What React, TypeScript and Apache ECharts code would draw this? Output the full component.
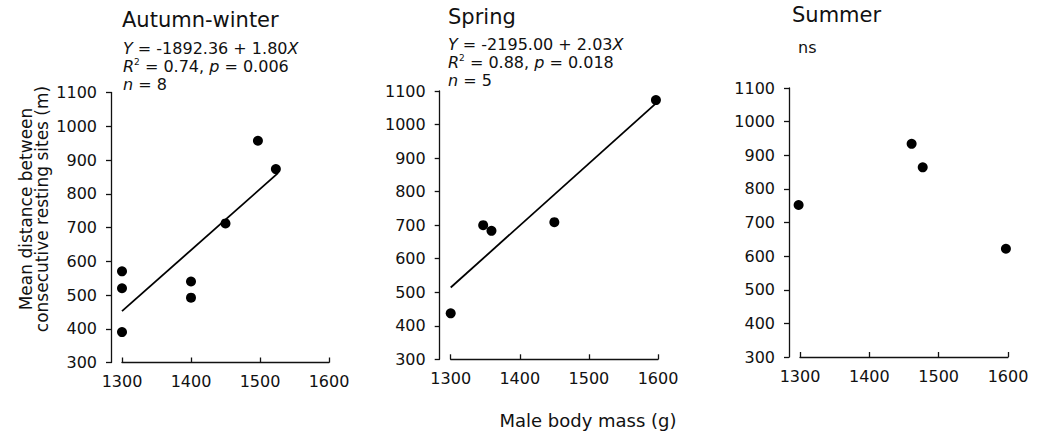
import React, { useEffect, useRef } from "react";
import * as echarts from "echarts";

// ---- data ----
const X_MIN = 1300;
const X_MAX = 1600;
const X_STEP = 100;
const Y_MIN = 300;
const Y_MAX = 1100;
const Y_STEP = 100;

const panelTitles = ["Autumn-winter", "Spring", "Summer"];

const autumnPoints = [
  [1300, 570], [1300, 520], [1300, 390], [1400, 540],
  [1400, 492], [1450, 712], [1497, 957], [1523, 873],
];
const springPoints = [
  [1300, 437], [1347, 700], [1359, 683], [1450, 709], [1597, 1073],
];
const summerPoints = [
  [1298, 752], [1461, 934], [1477, 864], [1597, 622],
];
const autumnFit = [[1300, 452], [1526, 861]];
const springFit = [[1300, 514], [1597, 1063]];

const autumnStats = ["{i|Y} = -1892.36 + 1.80{i|X}", "{i|R}{sup|2} = 0.74, {i|p} = 0.006", "{i|n} = 8"];
const springStats = ["{i|Y} = -2195.00 + 2.03{i|X}", "{i|R}{sup|2} = 0.88, {i|p} = 0.018", "{i|n} = 5"];
const summerStats = ["ns"];

const yAxisTitle = "Mean distance between\nconsecutive resting sites (m)";
const xAxisTitle = "Male body mass (g)";

const FONT = '"DejaVu Sans", "Liberation Sans", sans-serif';
const INK = "#111";

const grids = [
  { left: 122, top: 92.5, width: 207, height: 270 },
  { left: 450.7, top: 91, width: 207.3, height: 268.3 },
  { left: 800, top: 88, width: 208, height: 269 },
];

export default function App() {
  const ref = useRef<HTMLDivElement>(null);
  useEffect(() => {
    if (!ref.current) return;
    const chart = echarts.init(ref.current, null, { renderer: "svg" });
    const richStyles = {
      i: { fontStyle: "italic", fontSize: 16, fontFamily: FONT, color: INK },
      sup: { fontSize: 9, fontFamily: FONT, color: INK, verticalAlign: "top", padding: [0, 0, 7, 0] },
    };
    const option: any = {
      animation: false,
      backgroundColor: "#fff",
      title: [
        { text: panelTitles[0], left: 122, top: 9 },
        { text: panelTitles[1], left: 448, top: 6 },
        { text: panelTitles[2], left: 792, top: 4 },
      ].map((t) => ({
        ...t,
        padding: 0,
        textStyle: { fontFamily: FONT, fontSize: 21, fontWeight: "normal", color: INK },
      })).concat([
        { text: autumnStats.join("\n"), left: 123, top: 39 },
        { text: springStats.join("\n"), left: 448, top: 35 },
        { text: summerStats.join("\n"), left: 798, top: 38 },
      ].map((t) => ({
        ...t,
        padding: 0,
        textStyle: {
          fontFamily: FONT, fontSize: 16, lineHeight: 18, fontWeight: "normal", color: INK,
          rich: richStyles,
        },
      })) as any),
      grid: grids.map((g) => ({ ...g, containLabel: false })),
      xAxis: grids.map((_, i) => ({
        type: "value",
        gridIndex: i,
        min: X_MIN,
        max: X_MAX,
        interval: X_STEP,
        axisLine: { show: true, lineStyle: { color: INK, width: 1.3 } },
        axisTick: { show: true, inside: true, length: 5, lineStyle: { color: INK, width: 1.3 } },
        axisLabel: { fontFamily: FONT, fontSize: 16, color: INK, margin: 11, formatter: (v: number) => String(v) },
        splitLine: { show: false },
      })),
      yAxis: grids.map((_, i) => ({
        type: "value",
        gridIndex: i,
        min: Y_MIN,
        max: Y_MAX,
        interval: Y_STEP,
        offset: 11,
        axisLine: { show: true, lineStyle: { color: INK, width: 1.3 } },
        axisTick: { show: true, inside: false, length: 5, lineStyle: { color: INK, width: 1.3 } },
        axisLabel: { fontFamily: FONT, fontSize: 16, color: INK, margin: 14, formatter: (v: number) => String(v) },
        splitLine: { show: false },
      })),
      series: [
        { type: "scatter", xAxisIndex: 0, yAxisIndex: 0, data: autumnPoints },
        { type: "scatter", xAxisIndex: 1, yAxisIndex: 1, data: springPoints },
        { type: "scatter", xAxisIndex: 2, yAxisIndex: 2, data: summerPoints },
      ].map((s) => ({
        ...s,
        symbol: "circle",
        symbolSize: 10,
        clip: false,
        itemStyle: { color: "#000", opacity: 1 },
        z: 3,
      })).concat([
        { type: "line", xAxisIndex: 0, yAxisIndex: 0, data: autumnFit },
        { type: "line", xAxisIndex: 1, yAxisIndex: 1, data: springFit },
      ].map((s) => ({
        ...s,
        showSymbol: false,
        symbol: "none",
        clip: false,
        lineStyle: { color: "#000", width: 1.8 },
        z: 2,
      })) as any),
      graphic: [
        {
          type: "text",
          x: 34,
          y: 209,
          rotation: Math.PI / 2,
          style: {
            text: yAxisTitle,
            font: `17px ${FONT}`,
            fill: INK,
            align: "center",
            verticalAlign: "middle",
            lineHeight: 16,
          },
        },
        {
          type: "text",
          x: 588,
          y: 420,
          style: {
            text: xAxisTitle,
            font: `18px ${FONT}`,
            fill: INK,
            align: "center",
            verticalAlign: "middle",
          },
        },
      ],
    };
    chart.setOption(option);
    return () => chart.dispose();
  }, []);
  return (
    <div
      ref={ref}
      style={{ position: "fixed", left: 0, top: 0, width: 1040, height: 435, background: "#fff" }}
    />
  );
}
